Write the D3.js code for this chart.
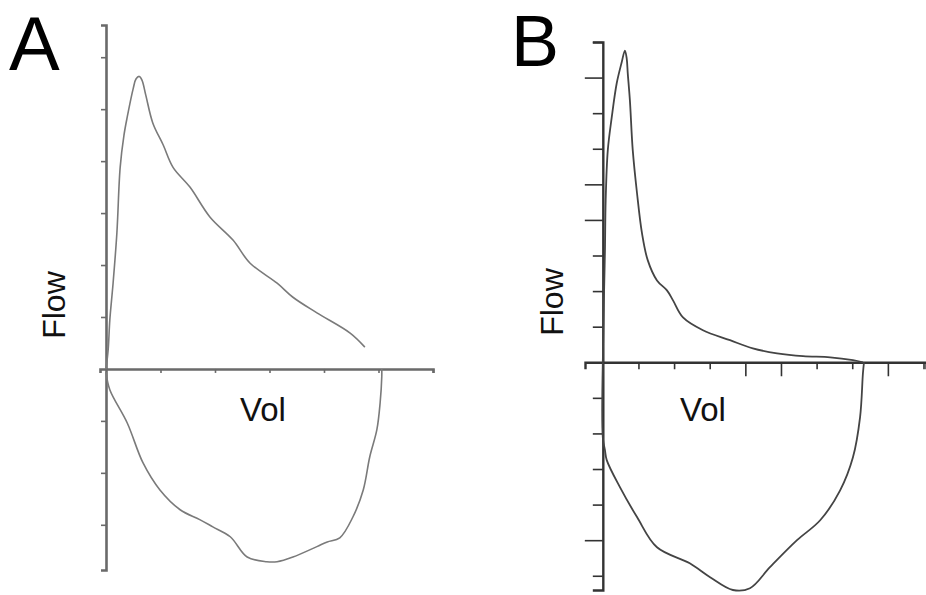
<!DOCTYPE html>
<html>
<head>
<meta charset="utf-8">
<script src="https://cdn.jsdelivr.net/npm/d3@7"></script>
<style>
  body { margin: 0; background: #fff; }
  svg { display: block; }
  .label { font-family: "Liberation Sans", Arial, sans-serif; fill: #111; }
  .panel-letter { font-family: "Liberation Sans", Arial, sans-serif; fill: #000; }
</style>
</head>
<body>
<svg id="chart" width="926" height="595"></svg>
<script>
// [volume, flow] pairs
const panelAExpiration = [
  [0, 0], [0.04, 0.37], [0.07, 0.94], [0.13, 1.65], [0.2, 2.62], [0.26, 3.88],
  [0.33, 4.5], [0.39, 4.85], [0.5, 5.4], [0.55, 5.58], [0.61, 5.63], [0.66, 5.56],
  [0.73, 5.27], [0.86, 4.73], [1.05, 4.31], [1.23, 3.88], [1.54, 3.5], [1.91, 2.92],
  [2.33, 2.48], [2.64, 2.04], [3.14, 1.65], [3.43, 1.38], [3.87, 1.08], [4.48, 0.69],
  [4.75, 0.42]
];
const panelAInspiration = [
  [0, -0.06], [0.07, -0.4], [0.39, -1.04], [0.68, -1.81], [0.99, -2.33], [1.36, -2.71],
  [1.72, -2.9], [1.96, -3.04], [2.28, -3.23], [2.59, -3.62], [2.95, -3.71], [3.14, -3.71],
  [3.43, -3.62], [3.87, -3.42], [4.06, -3.33], [4.29, -3.25], [4.53, -2.85], [4.72, -2.33],
  [4.84, -1.69], [4.97, -1.17], [5.03, -0.65], [5.06, -0.15], [5.06, 0]
];
const panelBExpiration = [
  [0, 0], [0.03, 1.74], [0.06, 3.15], [0.08, 4.55], [0.14, 5.96], [0.25, 6.88],
  [0.39, 7.84], [0.53, 8.43], [0.62, 8.76], [0.67, 8.54], [0.7, 8.12], [0.76, 7.36],
  [0.84, 5.96], [0.96, 4.75], [1.1, 3.62], [1.26, 2.87], [1.52, 2.3], [1.8, 2.02],
  [1.97, 1.74], [2.25, 1.26], [2.81, 0.9], [3.57, 0.62], [4.21, 0.39], [4.89, 0.25],
  [5.62, 0.17], [6.38, 0.14], [7.02, 0.06], [7.3, 0]
];
const panelBInspiration = [
  [0, 0], [0, -2.11], [0.06, -2.47], [0.11, -2.75], [0.48, -3.51], [0.96, -4.35],
  [1.52, -5.2], [2.44, -5.65], [3.01, -6.04], [3.65, -6.4], [4.13, -6.35], [4.69, -5.76],
  [5.45, -5.0], [6.1, -4.44], [6.66, -3.6], [7.02, -2.67], [7.22, -1.54], [7.3, -0.31],
  [7.33, 0]
];

const panelAVolTicks = [1, 2, 3, 4, 5, 6];
const panelAFlowTicks = [-3, -2, -1, 1, 2, 3, 4, 5, 6];
const panelBVolTicks = [1, 2, 3, 4, 5, 6, 7, 8, 9];
const panelBFlowTicks = [-6, -5, -4, -3, -2, -1, 1, 2, 3, 4, 5, 6, 7, 8, 9];
const panelBLongTicks = [4, 8, -5, 5];

const svg = d3.select("#chart");

function drawPanel(opts) {
  const x = d3.scaleLinear().domain(opts.xDomain).range(opts.xRange);
  const y = d3.scaleLinear().domain(opts.yDomain).range(opts.yRange);
  const g = svg.append("g");

  const line = d3.line()
    .curve(d3.curveCatmullRom.alpha(0.5))
    .x((d) => x(d[0]))
    .y((d) => y(d[1]));

  // x axis through flow = 0
  const xAxis = g.append("g")
    .attr("transform", "translate(0," + y(0) + ")")
    .call(d3.axisBottom(x).tickValues(opts.xTicks).tickFormat("")
      .tickSizeOuter(0).tickSize(opts.tick));
  xAxis.select(".domain").attr("stroke", opts.axisColor).attr("stroke-width", opts.axisWidth);
  xAxis.selectAll(".tick line").attr("stroke", opts.axisColor).attr("stroke-width", 1.6)
    .attr("y2", (d) => opts.longTicks.includes(d) ? opts.tick * 2 : opts.tick);

  // y axis through vol = 0
  const yAxis = g.append("g")
    .attr("transform", "translate(" + x(0) + ",0)")
    .call(d3.axisLeft(y).tickValues(opts.yTicks).tickFormat("")
      .tickSizeOuter(0).tickSize(opts.tickY));
  yAxis.select(".domain").attr("stroke", opts.axisColor).attr("stroke-width", opts.axisWidth);
  yAxis.selectAll(".tick line").attr("stroke", opts.axisColor).attr("stroke-width", 1.6)
    .attr("x2", (d) => opts.longTicks.includes(d) ? -opts.tickY * 1.8 : -opts.tickY);

  [opts.expiration, opts.inspiration].forEach((data) => {
    g.append("path")
      .datum(data)
      .attr("fill", "none")
      .attr("stroke", opts.curveColor)
      .attr("stroke-width", opts.curveWidth)
      .attr("stroke-linejoin", "round")
      .attr("d", line);
  });

  // labels
  svg.append("text")
    .attr("class", "panel-letter")
    .attr("x", opts.letterPos[0])
    .attr("y", opts.letterPos[1])
    .attr("font-size", opts.letterSize)
    .text(opts.letter);

  svg.append("text")
    .attr("class", "label")
    .attr("transform", "translate(" + opts.flowPos[0] + "," + opts.flowPos[1] + ") rotate(-90)")
    .attr("text-anchor", "middle")
    .attr("font-size", 32)
    .text("Flow");

  svg.append("text")
    .attr("class", "label")
    .attr("x", opts.volPos[0])
    .attr("y", opts.volPos[1])
    .attr("font-size", 33)
    .text("Vol");
}

drawPanel({
  letter: "A",
  letterPos: [9, 70],
  letterSize: 76,
  flowPos: [65, 305],
  volPos: [240, 421],
  xDomain: [-0.11, 6], xRange: [100, 433],
  yDomain: [-3.87, 6.62], yRange: [570, 25],
  xTicks: panelAVolTicks, yTicks: panelAFlowTicks, longTicks: [],
  tick: 4, tickY: 5,
  axisColor: "#6a6a6a", axisWidth: 2.6,
  curveColor: "#7a7a7a", curveWidth: 1.6,
  expiration: panelAExpiration, inspiration: panelAInspiration
});

drawPanel({
  letter: "B",
  letterPos: [511, 66],
  letterSize: 72,
  flowPos: [563, 302],
  volPos: [680, 421],
  xDomain: [-0.5, 9.07], xRange: [585, 926],
  yDomain: [-6.4, 9.0], yRange: [590, 42],
  xTicks: panelBVolTicks, yTicks: panelBFlowTicks, longTicks: panelBLongTicks,
  tick: 7, tickY: 10,
  axisColor: "#333", axisWidth: 2.4,
  curveColor: "#444", curveWidth: 1.8,
  expiration: panelBExpiration, inspiration: panelBInspiration
});
</script>
</body>
</html>
